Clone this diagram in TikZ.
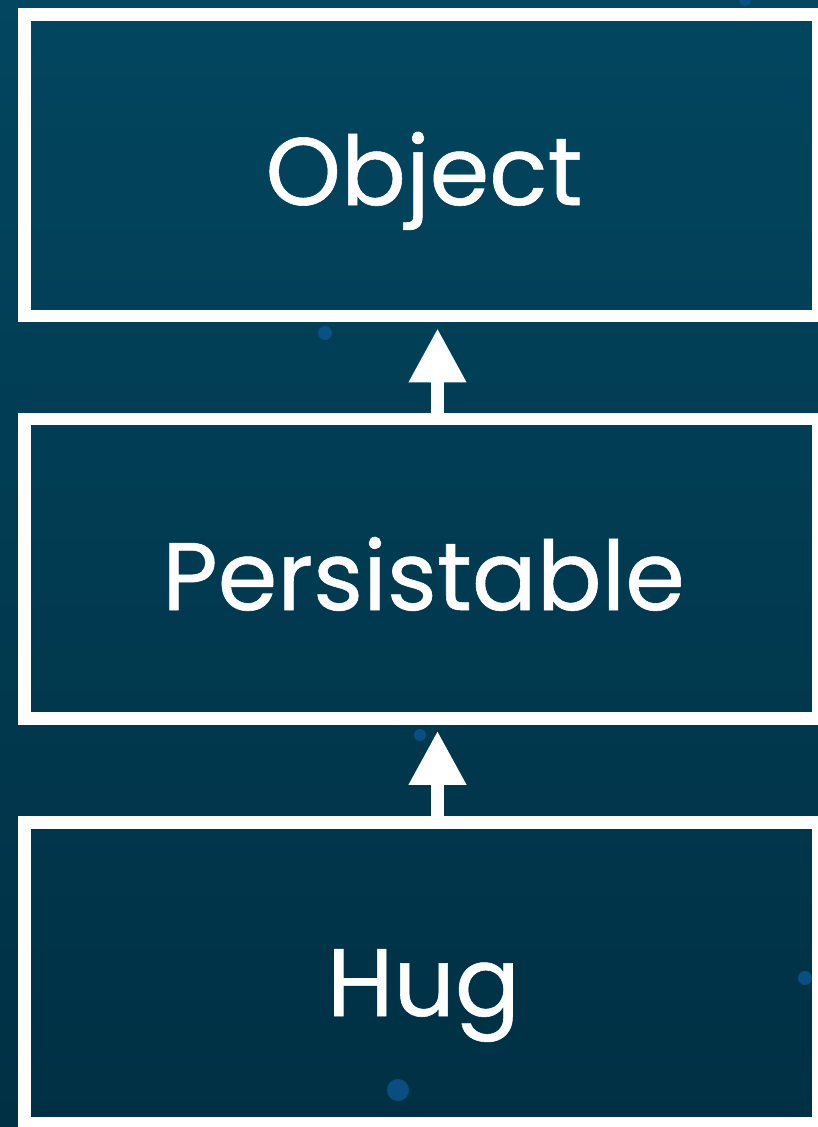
\documentclass[tikz,border=0pt]{standalone}
\usepackage{fontspec}
\setmainfont{Poppins}
\newfontfamily\lblfont{Poppins}[FakeBold=0.6]
\usetikzlibrary{arrows.meta}
\definecolor{bgtop}{RGB}{2,70,95}
\definecolor{bgbot}{RGB}{0,48,68}
\definecolor{dotblue}{RGB}{12,84,140}
\tikzset{
  box/.style={draw=white, line width=12.5pt, fill=none, rectangle, minimum width=794pt, inner sep=0pt},
  lbl/.style={text=white, font=\lblfont\fontsize{96}{100}\selectfont, inner sep=0pt, anchor=base},
  uparrow/.style={draw=white, line width=13pt, -{Triangle[width=54pt,length=54pt]}},
  speck/.style={fill=dotblue, draw=none, opacity=0.85}
}
\begin{document}
\begin{tikzpicture}[x=1pt,y=-1pt]
\useasboundingbox (0,0) rectangle (818,1127);
\shade[top color=bgtop, bottom color=bgbot] (0,0) rectangle (818,1127);
% decorative specks
\fill[speck] (745,0) circle (6);
\fill[speck] (325,333) circle (7);
\fill[speck] (420,735) circle (6);
\fill[speck] (805,978) circle (7);
\fill[speck] (398,1090) circle (11);
% boxes
\node[box, minimum height=301.5pt] (obj) at (421.5,165.25) {};
\node[box, minimum height=299.5pt] (pers) at (421.5,568.75) {};
\node[box, minimum height=300.5pt] (hug) at (421.5,972.75) {};
% labels
\node[lbl] (objt) at (424,205) {Object};
\node[lbl] (perst) at (423.5,610) {Persistable};
\node[lbl] (hugt) at (423.5,1016) {Hug};
% arrows
\draw[uparrow] (pers.north -| 437.5,0) -- ([yshift=-6pt]obj.south -| 437.5,0);
\draw[uparrow] (hug.north -| 437.5,0) -- ([yshift=-6pt]pers.south -| 437.5,0);
\end{tikzpicture}
\end{document}
